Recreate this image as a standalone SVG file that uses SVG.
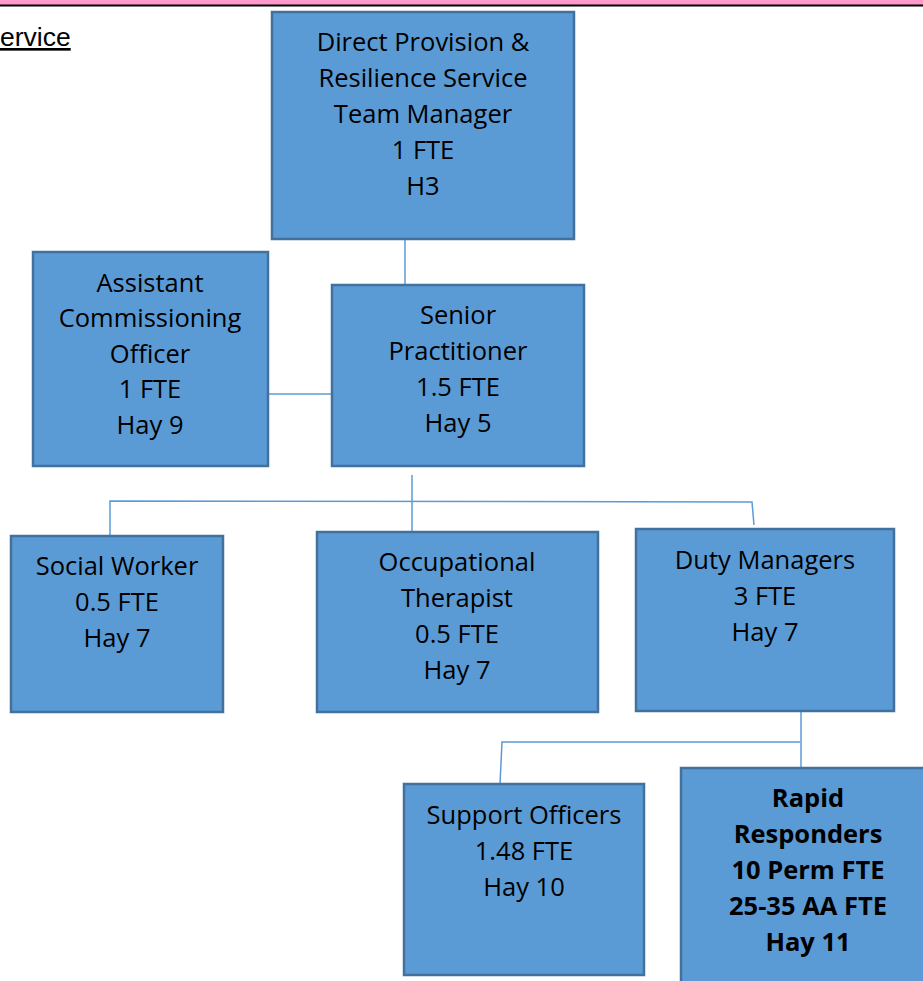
<svg xmlns="http://www.w3.org/2000/svg" width="923" height="981" viewBox="0 0 923 981">
<style>
.box{fill:#5b9bd5;stroke:#41719c;stroke-width:2.5}
.t{font-family:"Open Sans","Noto Sans",sans-serif;font-size:25.5px;fill:#000;text-anchor:middle}
.b{font-weight:700}
.c{stroke:#5b9bd5;stroke-width:1.5;fill:none}
</style>
<rect x="0" y="0" width="923" height="5" fill="#ff99cc"/>
<rect x="0" y="4.5" width="923" height="2" fill="#000"/>
<text x="0" y="46" font-family="Liberation Sans, Arial, sans-serif" font-size="26.5" fill="#000" text-decoration="underline">ervice</text>
<g id="connectors">
<path class="c" d="M405 239V285"/>
<path class="c" d="M268 394H332"/>
<path class="c" d="M412 475V531"/>
<path class="c" d="M110 536V501L752 502L754 525"/>
<path class="c" d="M801 711V768"/>
<path class="c" d="M800 742H502L500 784"/>
</g>
<g id="n-manager">
<rect class="box" x="272" y="12" width="302" height="227"/>
<text class="t" x="423" y="51">Direct Provision &amp;</text>
<text class="t" x="423" y="87">Resilience Service</text>
<text class="t" x="423" y="123">Team Manager</text>
<text class="t" x="423" y="159">1 FTE</text>
<text class="t" x="423" y="195">H3</text>
</g>
<g id="n-aco">
<rect class="box" x="33" y="252" width="235" height="214"/>
<text class="t" x="150" y="292">Assistant</text>
<text class="t" x="150" y="327">Commissioning</text>
<text class="t" x="150" y="363">Officer</text>
<text class="t" x="150" y="398">1 FTE</text>
<text class="t" x="150" y="434">Hay 9</text>
</g>
<g id="n-senior">
<rect class="box" x="332" y="285" width="252" height="181"/>
<text class="t" x="458" y="324">Senior</text>
<text class="t" x="458" y="360">Practitioner</text>
<text class="t" x="458" y="396">1.5 FTE</text>
<text class="t" x="458" y="432">Hay 5</text>
</g>
<g id="n-social">
<rect class="box" x="11" y="536" width="212" height="176"/>
<text class="t" x="117" y="575">Social Worker</text>
<text class="t" x="117" y="611">0.5 FTE</text>
<text class="t" x="117" y="647">Hay 7</text>
</g>
<g id="n-ot">
<rect class="box" x="317" y="532" width="281" height="180"/>
<text class="t" x="457" y="571">Occupational</text>
<text class="t" x="457" y="607">Therapist</text>
<text class="t" x="457" y="643">0.5 FTE</text>
<text class="t" x="457" y="679">Hay 7</text>
</g>
<g id="n-duty">
<rect class="box" x="636" y="529" width="258" height="182"/>
<text class="t" x="765" y="569">Duty Managers</text>
<text class="t" x="765" y="605">3 FTE</text>
<text class="t" x="765" y="641">Hay 7</text>
</g>
<g id="n-support">
<rect class="box" x="404" y="784" width="240" height="191"/>
<text class="t" x="524" y="824">Support Officers</text>
<text class="t" x="524" y="860">1.48 FTE</text>
<text class="t" x="524" y="896">Hay 10</text>
</g>
<g id="n-rapid">
<rect class="box" x="681" y="768" width="250" height="230"/>
<text class="t b" x="808" y="807">Rapid</text>
<text class="t b" x="808" y="843">Responders</text>
<text class="t b" x="808" y="879">10 Perm FTE</text>
<text class="t b" x="808" y="915">25-35 AA FTE</text>
<text class="t b" x="808" y="951">Hay 11</text>
</g>
</svg>
